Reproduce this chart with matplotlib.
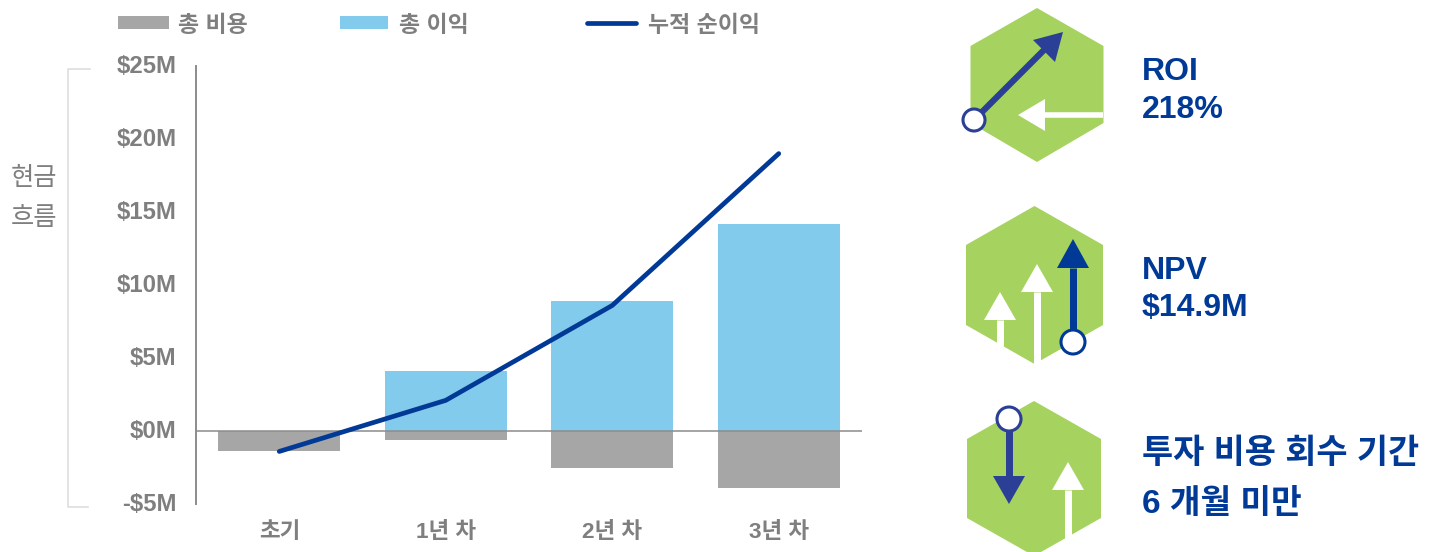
import matplotlib
matplotlib.use("Agg")
import matplotlib.pyplot as plt
from matplotlib.patches import Polygon, Circle, Rectangle
from matplotlib.transforms import ScaledTranslation

plt.rcParams['font.family'] = ['Liberation Sans', 'Noto Sans CJK KR']

periods = ['초기', '1년 차', '2년 차', '3년 차']
total_cost = [-1.4, -0.6, -2.5, -3.9]
total_benefit = [0.0, 4.1, 8.9, 14.2]
cumulative_net = [-1.4, 2.1, 8.6, 19.0]
y_ticks = [-5, 0, 5, 10, 15, 20, 25]
y_labels = ['-$5M', '$0M', '$5M', '$10M', '$15M', '$20M', '$25M']

GREY_TEXT = '#7F7F7F'
GREY_BAR = '#A6A6A6'
SKY = '#82CBEC'
NAVY = '#003A96'
INDIGO = '#2A3F95'
GREEN = '#A6D25F'

W, H = 1439, 552
fig = plt.figure(figsize=(W / 100, H / 100), dpi=100, facecolor='white')

# Cash-flow chart
ax = fig.add_axes([196 / W, 1 - 504 / H, 666 / W, 438 / H])
x = range(len(periods))
ax.bar(x, total_cost, width=0.73, color=GREY_BAR, zorder=2)
ax.bar(x, total_benefit, width=0.73, color=SKY, zorder=2)
ax.axhline(0, color='#8C8C8C', lw=1.1, zorder=3)
ax.plot(x, cumulative_net, color=NAVY, lw=3.4, solid_capstyle='round',
        solid_joinstyle='round', zorder=4)
ax.set_xlim(-0.5, 3.5)
ax.set_ylim(-5, 25)
ax.set_yticks(y_ticks, y_labels)
ax.set_xticks(list(x), periods)
ax.tick_params(axis='y', length=0, pad=14, labelsize=17.2, labelcolor=GREY_TEXT)
ax.tick_params(axis='x', length=0, pad=13, labelsize=16.2, labelcolor=GREY_TEXT)
for lab in ax.get_xticklabels() + ax.get_yticklabels():
    lab.set_fontweight('bold')
nudge_up = ScaledTranslation(0, 2 / 100, fig.dpi_scale_trans)
for lab in ax.get_yticklabels():
    lab.set_transform(lab.get_transform() + nudge_up)
for side in ('top', 'right', 'bottom'):
    ax.spines[side].set_visible(False)
ax.spines['left'].set_color('#8C8C8C')
ax.spines['left'].set_linewidth(1.4)

# Overlay in pixel units for legend, bracket and KPI icons
ov = fig.add_axes([0, 0, 1, 1], facecolor='none')
ov.set_xlim(0, W)
ov.set_ylim(H, 0)
ov.axis('off')

# Legend row
legend_text = dict(fontsize=16.5, fontweight='bold', color=GREY_TEXT, va='center')
ov.add_patch(Rectangle((118, 16), 51, 13, color=GREY_BAR, lw=0))
ov.text(178, 25, '총 비용', **legend_text)
ov.add_patch(Rectangle((340, 16), 48, 13, color=SKY, lw=0))
ov.text(399, 25, '총 이익', **legend_text)
ov.plot([587, 636], [23, 23], color=NAVY, lw=3.4, solid_capstyle='round')
ov.text(648, 25, '누적 순이익', **legend_text)

# Axis title and its bracket
ov.plot([90, 68, 68, 88], [69, 69, 507, 507], color='#DEDEDE', lw=1.2)
ov.text(34, 178, '현금', fontsize=18.2, color=GREY_TEXT, ha='center', va='center')
ov.text(34, 218, '흐름', fontsize=18.2, color=GREY_TEXT, ha='center', va='center')


def hexagon(cx, hw, top, sh_top, sh_bot, bottom):
    ov.add_patch(Polygon([(cx, top), (cx + hw, sh_top), (cx + hw, sh_bot),
                          (cx, bottom), (cx - hw, sh_bot), (cx - hw, sh_top)],
                         closed=True, color=GREEN, lw=0, zorder=2))


def up_arrow(cx, tip, base, tail, color='white', shaft=7):
    """Vertical arrow; tip above tail means it points up."""
    ov.add_patch(Polygon([(cx, tip), (cx + 16, base), (cx - 16, base)],
                         closed=True, color=color, lw=0, zorder=3))
    ov.plot([cx, cx], [base, tail], color=color, lw=shaft * 0.72,
            solid_capstyle='butt', zorder=3)


def node(cx, cy, r, color):
    ov.add_patch(Circle((cx, cy), r, facecolor='white', edgecolor=color, lw=2.2, zorder=5))


# ROI icon
hexagon(1037, 66.5, 8, 46, 123, 162)
ov.add_patch(Polygon([(1018, 115), (1045, 99), (1045, 131)], closed=True,
                     color='white', lw=0, zorder=3))
ov.plot([1045, 1103], [115, 115], color='white', lw=4.0, solid_capstyle='butt', zorder=3)
ov.plot([974, 1046], [120, 48], color=INDIGO, lw=4.5, solid_capstyle='butt', zorder=3)
ov.add_patch(Polygon([(1063, 32), (1033, 40), (1055, 62)], closed=True,
                     color=INDIGO, lw=0, zorder=4))
node(974, 120, 11, INDIGO)

# NPV icon
hexagon(1034.5, 68.5, 206, 245, 325, 364)
up_arrow(1000, 292, 320, 346)
up_arrow(1037, 264, 292, 364)
up_arrow(1073, 239, 268, 335, color=NAVY)
node(1073, 342, 12, NAVY)

# Payback icon
hexagon(1034, 67, 401, 439, 518, 556)
up_arrow(1009, 504, 476, 425, color=INDIGO)
up_arrow(1068, 462, 490, 538)
node(1009, 419, 12, INDIGO)

# KPI captions
kpi = dict(color=NAVY, fontweight='bold', va='center', ha='left')
ov.text(1142, 72, 'ROI', fontsize=23, **kpi)
ov.text(1142, 110, '218%', fontsize=23, **kpi)
ov.text(1142, 271, 'NPV', fontsize=23, **kpi)
ov.text(1142, 308, '$14.9M', fontsize=23, **kpi)
ov.text(1142, 454, '투자 비용 회수 기간', fontsize=24.4, **kpi)
ov.text(1142, 505, '6 개월 미만', fontsize=24, **kpi)

fig.savefig('out.png', dpi=100, facecolor='white')
